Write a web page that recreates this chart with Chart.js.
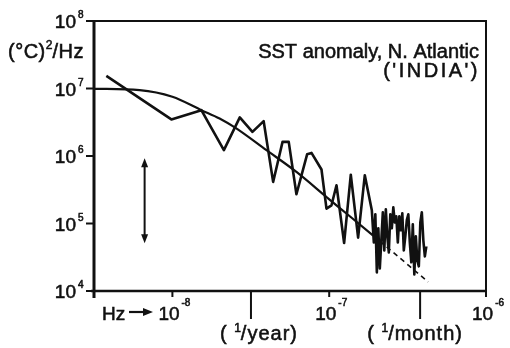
<!DOCTYPE html>
<html><head><meta charset="utf-8">
<script src="https://cdn.jsdelivr.net/npm/chart.js@4/dist/chart.umd.min.js"></script>
<style>html,body{margin:0;padding:0;background:#fff}#wrap{width:510px;height:348px}</style>
</head><body><div id="wrap"><canvas id="c" width="510" height="348"></canvas></div>
<script>
// ---- data (frequency in Hz, spectral density in (°C)^2/Hz) ----
const spectrumFreq = [
  3.79e-9, 9.85e-9, 1.53e-8, 2.13e-8, 2.69e-8, 3.24e-8, 3.82e-8, 4.39e-8, 5.04e-8, 5.52e-8,
  6.18e-8, 7.23e-8, 7.71e-8, 8.93e-8, 9.61e-8, 1.034e-7, 1.113e-7, 1.245e-7, 1.373e-7, 1.529e-7,
  1.687e-7,
  1.870e-7, 1.926e-7, 1.969e-7, 2.013e-7, 2.057e-7, 2.103e-7, 2.150e-7, 2.198e-7, 2.246e-7, 2.297e-7,
  2.348e-7, 2.400e-7, 2.453e-7, 2.508e-7, 2.564e-7, 2.621e-7, 2.679e-7, 2.739e-7, 2.800e-7, 2.862e-7,
  2.926e-7, 2.991e-7, 3.058e-7, 3.126e-7, 3.196e-7, 3.267e-7, 3.339e-7, 3.414e-7, 3.490e-7, 3.568e-7,
  3.648e-7, 3.729e-7, 3.812e-7, 3.897e-7, 3.985e-7, 4.074e-7, 4.164e-7
];
const spectrumValue = [
  1.54e7, 3.48e6, 4.78e6, 1.22e6, 3.73e6, 2.28e6, 3.28e6, 4.13e5, 1.62e6, 1.62e6,
  2.71e5, 1.06e6, 1.11e6, 6.31e5, 1.66e5, 1.86e5, 3.69e5, 5.14e4, 5.28e5, 6.18e4,
  5.19e5,
  1.57e5, 5.26e4, 1.37e5, 1.89e4, 8.49e4, 2.16e4, 5.63e4, 1.47e5, 4.00e4, 1.62e5,
  6.46e4, 3.74e4, 1.37e5, 8.49e4, 1.74e5, 1.04e5, 1.28e5, 5.26e4, 1.28e5, 7.93e4,
  1.42e5, 4.00e4, 6.46e4, 1.12e5, 1.37e5, 5.26e4, 2.66e4, 9.73e4, 1.76e4, 6.46e4,
  2.84e4, 2.32e4, 1.04e5, 1.47e5, 5.63e4, 3.26e4, 4.59e4
];
const fitFreq  = [3.16e-9, 6.18e-9, 1.0e-8, 1.53e-8, 2.0e-8, 2.5e-8, 3.98e-8, 6.18e-8, 9.61e-8, 1.113e-7, 1.90e-7, 4.28e-7];
const fitValue = [9.9e6, 9.47e6, 7.53e6, 4.78e6, 3.60e6, 2.65e6, 1.22e6, 5.81e5, 2.47e5, 1.86e5, 6.68e4, 1.36e4];
const fitDashedFrom = 1.9e-7;

const xDecades = [1e-8, 1e-7, 1e-6];
const xDecadeExp = ['-8', '-7', '-6'];
const yDecades = [1e4, 1e5, 1e6, 1e7, 1e8];
const yDecadeExp = ['4', '5', '6', '7', '8'];
const periodFreq = [3.17e-8, 3.80e-7];
const periodText = ['/year)', '/month)'];
const ciFreq = 6.65e-9;
const ciRange = [5.08e4, 9.27e5];
const titleLines = ['SST anomaly, N. Atlantic', "('INDIA')"];
const xMin = Math.pow(10, -8.5), xMax = 1e-6, yMin = 1e4, yMax = 1e8;

const FONT = '"Liberation Sans", Arial, sans-serif';
const INK = '#111';

function txt(ctx, s, x, y) {
  ctx.fillText(s, x, y);
  ctx.lineWidth = 0.55; ctx.strokeText(s, x, y);
}
function runs(ctx, x, y, parts, align) {
  // parts: [text, size, dy, spacing]
  let w = 0;
  parts.forEach(p => { ctx.font = p[1] + 'px ' + FONT; ctx.letterSpacing = (p[3] || 0) + 'px'; w += ctx.measureText(p[0]).width; });
  let cx = align === 'center' ? x - w / 2 : (align === 'right' ? x - w : x);
  ctx.textAlign = 'left'; ctx.textBaseline = 'alphabetic';
  parts.forEach(p => {
    ctx.font = p[1] + 'px ' + FONT; ctx.letterSpacing = (p[3] || 0) + 'px';
    txt(ctx, p[0], cx, y + (p[2] || 0));
    cx += ctx.measureText(p[0]).width;
  });
  ctx.letterSpacing = '0px';
}

const deco = {
  id: 'deco',
  afterDraw(chart) {
    const { ctx, chartArea: a, scales: { x, y } } = chart;
    ctx.save();
    ctx.strokeStyle = INK; ctx.fillStyle = INK; ctx.lineCap = 'butt';
    const seg = (x1, y1, x2, y2, lw) => { ctx.lineWidth = lw; ctx.beginPath(); ctx.moveTo(x1, y1); ctx.lineTo(x2, y2); ctx.stroke(); };
    // frame
    seg(a.left, a.top - 1, a.left, a.bottom + 7, 3);
    seg(a.left - 3, a.bottom, a.right + 1, a.bottom, 2.5);
    seg(a.left, a.top, a.right + 1, a.top, 2);
    seg(a.right, a.top - 1, a.right, a.bottom, 2);
    // y decades
    yDecades.forEach((v, i) => {
      const py = y.getPixelForValue(v);
      seg(a.left - 8, py, a.left, py, 2);
      ctx.font = '19px ' + FONT; ctx.textAlign = 'right'; ctx.textBaseline = 'alphabetic';
      txt(ctx, '10', 76, py + 7);
      ctx.font = '10px ' + FONT; ctx.textAlign = 'left';
      txt(ctx, yDecadeExp[i], 78, py - 3);
    });
    // x decades
    xDecades.forEach((v, i) => {
      const px = x.getPixelForValue(v);
      seg(px, a.bottom, px, a.bottom + 6, 2);
      ctx.font = '19px ' + FONT; ctx.textAlign = 'left'; ctx.textBaseline = 'alphabetic';
      txt(ctx, '10', px - 14, 320);
      const w = ctx.measureText('10').width;
      ctx.font = '10px ' + FONT;
      txt(ctx, xDecadeExp[i], px - 14 + w + 2, 306);
    });
    // period marks
    const offs = [8, -5];
    periodFreq.forEach((v, i) => {
      const px = x.getPixelForValue(v);
      seg(px, a.bottom, px, a.bottom + 28, 2);
      runs(ctx, px + offs[i], 340, [['( ', 20, 0, 1], ['1', 12, -8, 0], [periodText[i], 20, 0, 1]], 'center');
    });
    // Hz arrow
    ctx.font = '19px ' + FONT; ctx.textAlign = 'left';
    txt(ctx, 'Hz', 102, 320);
    seg(129, 312, 146, 312, 2.2);
    ctx.beginPath(); ctx.moveTo(153, 312); ctx.lineTo(143, 308); ctx.lineTo(143, 316); ctx.closePath(); ctx.fill();
    // y axis title
    runs(ctx, 8, 58, [['(°C)', 20, 0, 0.5], ['2', 12, -9, 0], ['/Hz', 20, 0, 0.5]], 'left');
    // title
    runs(ctx, 479, 58, [[titleLines[0], 20, 0, 0]], 'right');
    runs(ctx, 480, 77, [[titleLines[1], 20, 0, 2.5]], 'right');
    // confidence arrow
    const cx = x.getPixelForValue(ciFreq);
    const yt = y.getPixelForValue(ciRange[1]), yb = y.getPixelForValue(ciRange[0]);
    seg(cx, yt + 6, cx, yb - 6, 2);
    ctx.beginPath(); ctx.moveTo(cx, yt); ctx.lineTo(cx - 3.5, yt + 9); ctx.lineTo(cx + 3.5, yt + 9); ctx.closePath(); ctx.fill();
    ctx.beginPath(); ctx.moveTo(cx, yb); ctx.lineTo(cx - 3.5, yb - 9); ctx.lineTo(cx + 3.5, yb - 9); ctx.closePath(); ctx.fill();
    ctx.restore();
  }
};

new Chart(document.getElementById('c'), {
  type: 'line',
  data: {
    datasets: [
      {
        data: spectrumFreq.map((f, i) => ({ x: f, y: spectrumValue[i] })),
        borderColor: INK, borderWidth: 2.6, pointRadius: 0, tension: 0, fill: false,
        borderJoinStyle: 'round'
      },
      {
        data: fitFreq.map((f, i) => ({ x: f, y: fitValue[i] })),
        borderColor: INK, borderWidth: 2.2, pointRadius: 0, fill: false,
        cubicInterpolationMode: 'monotone',
        segment: {
          borderDash: c => c.p0.parsed.x >= fitDashedFrom ? [5, 4] : undefined,
          borderWidth: c => c.p0.parsed.x >= fitDashedFrom ? 1.6 : 2.2
        }
      }
    ]
  },
  options: {
    responsive: false, animation: false, devicePixelRatio: 1,
    layout: { padding: { left: 94, right: 24, top: 21, bottom: 57 } },
    plugins: { legend: { display: false }, tooltip: { enabled: false } },
    scales: {
      x: { type: 'logarithmic', min: xMin, max: xMax, display: false },
      y: { type: 'logarithmic', min: yMin, max: yMax, display: false }
    }
  },
  plugins: [deco]
});
</script>
</body></html>
